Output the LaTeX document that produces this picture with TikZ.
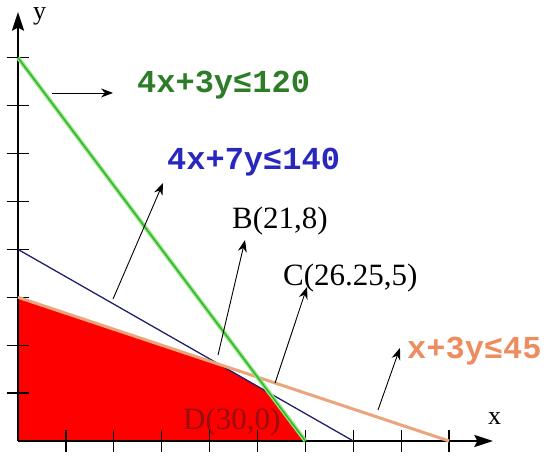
\documentclass[tikz,border=0pt]{standalone}
\usepackage{fontspec}
\setmainfont{Liberation Serif}
\setmonofont{Liberation Mono}
\usetikzlibrary{arrows.meta}
\definecolor{regionred}{RGB}{255,0,0}
\definecolor{dred}{RGB}{150,15,15}
\definecolor{greenhalo}{RGB}{140,230,120}
\definecolor{greencore}{RGB}{50,180,50}
\definecolor{navyline}{RGB}{30,30,110}
\definecolor{salmon}{RGB}{235,165,125}
\definecolor{greentxt}{RGB}{45,125,40}
\definecolor{bluetxt}{RGB}{40,40,190}
\definecolor{orangetxt}{RGB}{238,140,95}
\tikzset{
  axisline/.style={line width=1.8pt},
  headfill/.style={fill=black},
  pointer/.style={line width=0.9pt,-{Stealth[length=12pt,width=9pt]}},
  tickmark/.style={line width=1.3pt},
  lbl/.style={inner sep=0pt,anchor=base west,font=\fontsize{31}{31}\selectfont},
  axlbl/.style={inner sep=0pt,anchor=base west,font=\fontsize{26}{26}\selectfont},
  ineq/.style={inner sep=0pt,anchor=base west,font=\fontsize{32}{32}\selectfont\ttfamily\bfseries},
}
\begin{document}
\begin{tikzpicture}[x=1pt,y=1pt]
\useasboundingbox (0,0) rectangle (549,457);
\fill[white] (0,0) rectangle (549,457);
\begin{scope}[shift={(18pt,16pt)},x=9.58pt,y=9.58pt]
  % key points
  \coordinate (O) at (0,0);
  \coordinate (Y15) at (0,15);
  \coordinate (Y20) at (0,20);
  \coordinate (Y40) at (0,40);
  \coordinate (B) at (21,8);
  \coordinate (C) at (26.25,5);
  \coordinate (D) at (30,0);
  \coordinate (X35) at (35,0);
  \coordinate (X45) at (45,0);
  \coordinate (XT) at (49.58,0);
  \coordinate (YT) at (0,44.78);
  \coordinate (XE) at (48.2,0);
  \coordinate (YE) at (0,43.4);
  % feasible region
  \fill[regionred] (O) -- (Y15) -- (B) -- (C) -- (D) -- cycle;
  % D label
  \node[lbl,text=dred] (dl) at (17.22,1.15) {D(30,0)};
  % axes
  \draw[axisline] (O) -- (XE);
  \draw[axisline] (O) -- (YE);
  \foreach \i in {5,10,...,45} \draw[tickmark] (\i,-1.2) -- (\i,1.2);
  \foreach \i in {5,10,...,40} \draw[tickmark] (-1.2,\i) -- (1.2,\i);
  % constraint lines
  \draw[navyline,line width=1.3pt] (Y20) -- (X35);
  \draw[salmon,line width=3pt] (Y15) -- (X45);
  \draw[greenhalo,line width=4pt] (Y40) -- (D);
  \draw[greencore,line width=1.4pt] (Y40) -- (D);
  % axis labels
  \node[axlbl] (xl) at (49.06,1.67) {x};
  \node[axlbl] (yl) at (1.57,44.0) {y};
  % inequality labels
  \node[ineq,text=greentxt] (g) at (12.42,36.33) {4x+3y≤120};
  \node[ineq,text=bluetxt] (bl) at (15.55,28.29) {4x+7y≤140};
  \node[ineq,text=orangetxt] (ol) at (40.61,8.66) {x+3y≤45};
  % point labels
  \node[lbl] (bp) at (22.34,22.13) {B(21,8)};
  \node[lbl] (cp) at (27.66,16.28) {C(26.25,5)};
  % pointer arrows
  \coordinate (a1s) at (3.55,36.33);  \coordinate (a1e) at (9.92,36.33);
  \coordinate (a2s) at (9.92,14.82);  \coordinate (a2e) at (15.14,26.93);
  \coordinate (a3s) at (20.88,8.98);  \coordinate (a3e) at (23.70,20.98);
  \coordinate (a4s) at (26.83,6.05);  \coordinate (a4e) at (30.17,16.08);
  \coordinate (a5s) at (37.58,3.24);  \coordinate (a5e) at (39.87,9.71);
  \draw[pointer] (a1s) -- (a1e);
  \draw[pointer] (a2s) -- (a2e);
  \draw[pointer] (a3s) -- (a3e);
  \draw[pointer] (a4s) -- (a4e);
  \draw[pointer] (a5s) -- (a5e);
  % axis arrowheads
  \path[headfill] (XT) -- (47.6,0.65) -- (47.95,0) -- (47.6,-0.65) -- cycle;
  \path[headfill] (YT) -- (0.65,42.8) -- (0,43.15) -- (-0.65,42.8) -- cycle;
\end{scope}
\end{tikzpicture}
\end{document}
